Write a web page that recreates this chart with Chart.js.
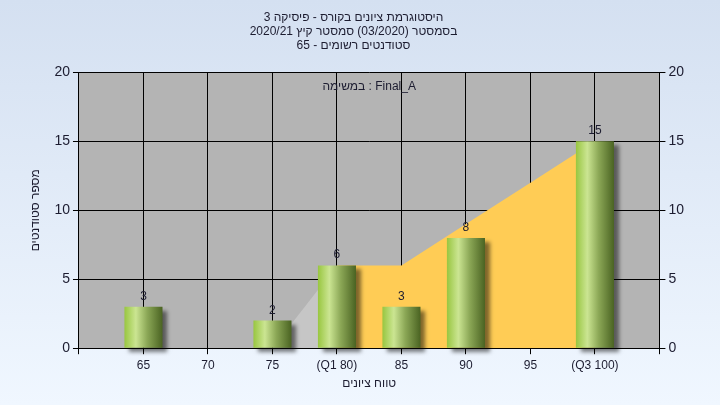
<!DOCTYPE html>
<html lang="he">
<head>
<meta charset="utf-8">
<script src="https://cdn.jsdelivr.net/npm/chart.js@4.4.1/dist/chart.umd.min.js"></script>
<style>
  html, body { margin: 0; padding: 0; }
  body { width: 720px; height: 405px; background: linear-gradient(#d4e0f1, #f0f7ff); }
  #histogram { direction: rtl; display: block; }
</style>
</head>
<body>
<canvas id="histogram" width="720" height="405"></canvas>
<script>
// grade bins (empty labels pad the axis at both ends)
const gradeLabels = ['', '65', '70', '75', '(Q1 80)', '85', '90', '95', '(Q3 100)', ''];
const studentCounts = [null, 3, 0, 2, 6, 3, 8, 0, 15, null];
// background areas: below Q1 and between Q1 and Q3
const belowQ1Area = [null, 0, 0, 0, 6, null, null, null, null, null];
const quartileArea = [null, null, null, null, 6, 6, 9, 12, 15, null];
const yMin = 0, yMax = 20, yStep = 5;

const titleLines = [
    'היסטוגרמת ציונים בקורס - פיסיקה 3',
    'בסמסטר (03/2020) סמסטר קיץ 2020/21',
    'סטודנטים רשומים - 65'
];
const taskCaption = 'Final_A : במשימה';

const FONT = '"Liberation Sans", Arial, sans-serif';
const TEXT = '#1c1c30';

function barGradient(c) {
    const chart = c.chart;
    const x = chart.scales.x;
    if (!chart.chartArea || !x) return '#9cc84a';
    const cx = x.getPixelForValue(c.dataIndex);
    const half = (x.getPixelForValue(1) - x.getPixelForValue(0)) * 0.59 / 2;
    const g = chart.ctx.createLinearGradient(cx - half, 0, cx + half, 0);
    g.addColorStop(0, '#98c640');
    g.addColorStop(0.3, '#cbe592');
    g.addColorStop(0.6, '#8ba756');
    g.addColorStop(1, '#4a6322');
    return g;
}

const plotBackground = {
    id: 'plotBackground',
    beforeDraw(chart) {
        const {ctx, chartArea: a} = chart;
        ctx.save();
        ctx.fillStyle = '#b4b4b4';
        ctx.fillRect(a.left, a.top, a.right - a.left, a.bottom - a.top);
        ctx.restore();
    }
};

const barShadow = {
    id: 'barShadow',
    beforeDatasetDraw(chart, args) {
        if (args.meta.type !== 'bar') return;
        const ctx = chart.ctx;
        ctx.save();
        ctx.shadowColor = 'rgba(0,0,0,0.5)';
        ctx.shadowBlur = 4;
        ctx.shadowOffsetX = 5;
        ctx.shadowOffsetY = 4;
    },
    afterDatasetDraw(chart, args) {
        if (args.meta.type === 'bar') chart.ctx.restore();
    }
};

const valueLabels = {
    id: 'valueLabels',
    afterDatasetsDraw(chart) {
        const ctx = chart.ctx;
        ctx.save();
        ctx.font = '12px ' + FONT;
        ctx.fillStyle = TEXT;
        ctx.textAlign = 'center';
        ctx.textBaseline = 'alphabetic';
        chart.data.datasets.forEach((ds, i) => {
            const meta = chart.getDatasetMeta(i);
            if (meta.type !== 'bar') return;
            meta.data.forEach((el, j) => {
                const v = ds.data[j];
                if (!v) return;
                ctx.fillText(String(v), el.x, el.y - 7);
            });
        });
        ctx.restore();
    }
};

const caption = {
    id: 'caption',
    beforeDatasetsDraw(chart) {
        const {ctx, chartArea: a} = chart;
        ctx.save();
        ctx.font = '12px ' + FONT;
        ctx.fillStyle = TEXT;
        ctx.textAlign = 'center';
        ctx.textBaseline = 'middle';
        ctx.fillText(taskCaption, (a.left + a.right) / 2, a.top + 14);
        ctx.restore();
    }
};

const yTicks = {
    min: yMin, max: yMax,
    ticks: { stepSize: yStep, color: TEXT, padding: 3, font: { family: FONT, size: 14 } },
    grid: { color: '#000', lineWidth: 1, tickLength: 6, tickColor: '#000' },
    border: { color: '#000' }
};

new Chart(document.getElementById('histogram'), {
    type: 'bar',
    data: {
        labels: gradeLabels,
        datasets: [
            {
                type: 'bar',
                data: studentCounts,
                backgroundColor: barGradient,
                borderWidth: 0,
                barPercentage: 0.59,
                categoryPercentage: 1,
                clip: 8,
                order: 0
            },
            {
                type: 'line',
                data: belowQ1Area,
                fill: 'origin',
                backgroundColor: '#c6c6c6',
                borderWidth: 0,
                pointRadius: 0,
                order: 1
            },
            {
                type: 'line',
                data: quartileArea,
                fill: 'origin',
                backgroundColor: '#ffcc55',
                borderWidth: 0,
                pointRadius: 0,
                order: 2
            }
        ]
    },
    options: {
        responsive: false,
        devicePixelRatio: 1,
        animation: false,
        layout: { padding: { left: 20, right: 33, top: 0, bottom: 10 } },
        plugins: {
            legend: { display: false },
            tooltip: { enabled: false },
            title: {
                display: true,
                text: titleLines,
                color: TEXT,
                font: { family: FONT, size: 12, weight: 'normal', lineHeight: 1.15 },
                padding: { top: 11, bottom: 20 }
            }
        },
        scales: {
            x: {
                offset: false,
                ticks: { color: TEXT, padding: 4, autoSkip: false, maxRotation: 0, font: { family: FONT, size: 12 } },
                grid: { color: '#000', offset: false, tickLength: 6, tickColor: '#000' },
                border: { color: '#000' },
                title: {
                    display: true, text: 'טווח ציונים', color: TEXT,
                    font: { family: FONT, size: 12 }, padding: { top: 0, bottom: 4 }
                }
            },
            y: Object.assign({}, yTicks, {
                position: 'left',
                title: {
                    display: true, text: 'מספר סטודנטים', color: TEXT,
                    font: { family: FONT, size: 12 }, padding: { top: 8, bottom: 9 }
                }
            }),
            y2: Object.assign({}, yTicks, {
                position: 'right',
                grid: { drawOnChartArea: false, tickLength: 6, tickColor: '#000' }
            })
        }
    },
    plugins: [plotBackground, barShadow, valueLabels, caption]
});
</script>
</body>
</html>
